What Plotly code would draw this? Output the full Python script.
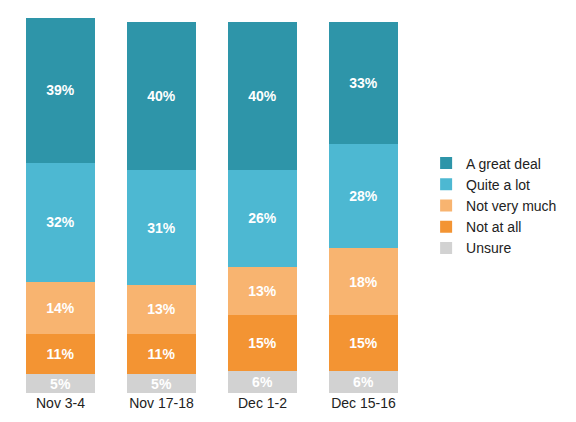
import plotly.graph_objects as go

periods = ["Nov 3-4", "Nov 17-18", "Dec 1-2", "Dec 15-16"]
unsure = [5, 5, 6, 6]
not_at_all = [11, 11, 15, 15]
not_very_much = [14, 13, 13, 18]
quite_a_lot = [32, 31, 26, 28]
great_deal = [39, 40, 40, 33]

series = [
    ("Unsure", unsure, "#D2D2D2"),
    ("Not at all", not_at_all, "#F39433"),
    ("Not very much", not_very_much, "#F8B470"),
    ("Quite a lot", quite_a_lot, "#4DB8D2"),
    ("A great deal", great_deal, "#2E95A9"),
]

fig = go.Figure()
for name, vals, color in series:
    fig.add_trace(go.Bar(
        x=periods, y=vals, name=name, legendgroup=name,
        marker_color=color, marker_line_width=0,
        text=[f"<b>{v}%</b>" for v in vals], textposition="inside",
        insidetextanchor="middle", constraintext="none",
        textfont=dict(color="white", size=14, family="Liberation Sans"),
    ))

fig.update_layout(
    barmode="stack", bargap=0.31, width=576, height=422,
    margin=dict(l=2, r=170, t=10, b=37),
    plot_bgcolor="white", paper_bgcolor="white",
    font=dict(family="Liberation Sans", size=14, color="#222"),
    legend=dict(x=1.03, y=0.5, yanchor="middle", traceorder="reversed",
                font=dict(size=14), tracegroupgap=9),
    yaxis=dict(visible=False, range=[0, 101]),
    xaxis=dict(showline=False, ticks="", tickfont=dict(size=14)),
)
fig.write_html("out.html")
